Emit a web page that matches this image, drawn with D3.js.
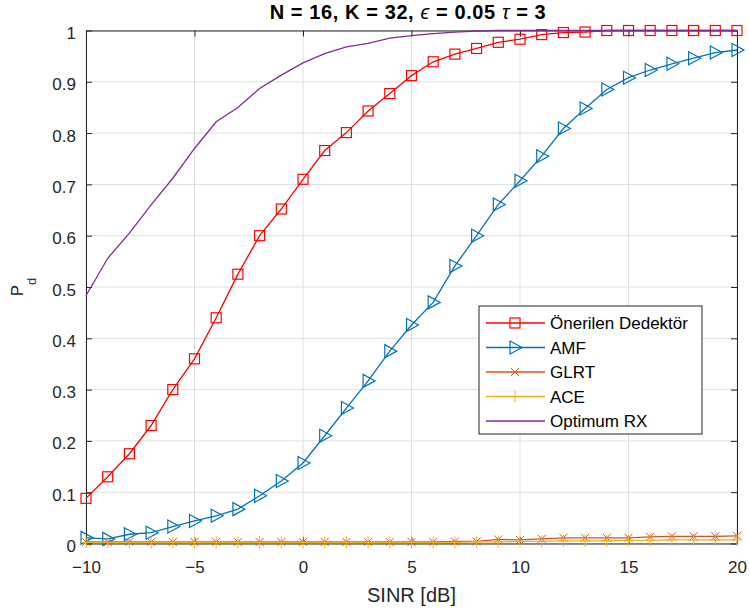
<!DOCTYPE html>
<html>
<head>
<meta charset="utf-8">
<script src="https://cdn.jsdelivr.net/npm/d3@7"></script>
<style>
  body { margin: 0; background: #fff; }
  svg text { font-family: "Liberation Sans", Arial, Helvetica, sans-serif; }
</style>
</head>
<body>
<div id="chart"></div>
<script>
(function() {
  'use strict';

  // SINR [dB] grid, one point per integer
  var sinr = d3.range(-10, 21);

  var onerilen = [0.088, 0.13, 0.175, 0.23, 0.30, 0.36, 0.44, 0.525, 0.60, 0.652,
    0.71, 0.766, 0.801, 0.843, 0.877, 0.912, 0.939, 0.954, 0.965, 0.977,
    0.983, 0.992, 0.996, 0.997, 1.0, 1.0, 1.0, 1.0, 1.0, 1.0, 1.0];

  var amf = [0.011, 0.009, 0.018, 0.021, 0.033, 0.044, 0.054, 0.067, 0.093, 0.122,
    0.157, 0.21, 0.264, 0.317, 0.375, 0.426, 0.47, 0.541, 0.60, 0.661,
    0.707, 0.755, 0.809, 0.848, 0.885, 0.908, 0.923, 0.935, 0.946, 0.957, 0.962];

  var glrt = [0.003, 0.003, 0.003, 0.003, 0.003, 0.003, 0.003, 0.003, 0.003, 0.003,
    0.003, 0.003, 0.003, 0.003, 0.003, 0.003, 0.003, 0.004, 0.004, 0.008,
    0.007, 0.009, 0.011, 0.011, 0.011, 0.011, 0.013, 0.014, 0.014, 0.014, 0.015];

  var ace = [0.002, 0.002, 0.002, 0.002, 0.002, 0.002, 0.002, 0.002, 0.002, 0.002,
    0.002, 0.002, 0.002, 0.002, 0.002, 0.002, 0.002, 0.002, 0.003, 0.003,
    0.004, 0.004, 0.005, 0.005, 0.005, 0.006, 0.006, 0.007, 0.007, 0.007, 0.007];

  var optimum = [0.483, 0.556, 0.605, 0.66, 0.712, 0.770, 0.822, 0.850, 0.887, 0.913,
    0.937, 0.955, 0.968, 0.975, 0.985, 0.990, 0.994, 0.997, 0.999, 1.0,
    1.0, 1.0, 1.0, 1.0, 1.0, 1.0, 1.0, 1.0, 1.0, 1.0, 1.0];

  var seriesNames = ['Önerilen Dedektör', 'AMF', 'GLRT', 'ACE', 'Optimum RX'];
  var seriesValues = [onerilen, amf, glrt, ace, optimum];
  var seriesColors = ['#ff0000', '#0072bd', '#d95319', '#edb120', '#7e2f8e'];
  var seriesMarkers = ['square', 'triangle', 'x', 'plus', 'none'];

  var xTicks = [-10, -5, 0, 5, 10, 15, 20];
  var yTicks = d3.range(0, 11).map(function (i) { return i / 10; });

  var width = 750;
  var height = 616;
  var margin = { top: 30.5, right: 13, bottom: 72.5, left: 86 };
  var iw = width - margin.left - margin.right;
  var ih = height - margin.top - margin.bottom;

  var svg = d3.select('#chart').append('svg')
    .attr('width', width)
    .attr('height', height);

  var g = svg.append('g')
    .attr('transform', 'translate(' + margin.left + ',' + margin.top + ')');

  var x = d3.scaleLinear().domain([-10, 20]).range([0, iw]);
  var y = d3.scaleLinear().domain([0, 1]).range([ih, 0]);

  // grid
  g.append('g').selectAll('line.gx').data(xTicks).enter().append('line')
    .attr('x1', function (d) { return x(d); })
    .attr('x2', function (d) { return x(d); })
    .attr('y1', 0).attr('y2', ih)
    .attr('stroke', '#dedede').attr('stroke-width', 1);
  g.append('g').selectAll('line.gy').data(yTicks).enter().append('line')
    .attr('y1', function (d) { return y(d); })
    .attr('y2', function (d) { return y(d); })
    .attr('x1', 0).attr('x2', iw)
    .attr('stroke', '#dedede').attr('stroke-width', 1);

  // axes (ticks inward, box on)
  var tickLen = 6;
  var xAxis = g.append('g').attr('transform', 'translate(0,' + ih + ')')
    .call(d3.axisBottom(x).tickValues(xTicks).tickSizeInner(-tickLen).tickSizeOuter(0).tickPadding(17));
  var xAxisTop = g.append('g')
    .call(d3.axisTop(x).tickValues(xTicks).tickSizeInner(-tickLen).tickSizeOuter(0).tickFormat(''));
  var yAxis = g.append('g')
    .call(d3.axisLeft(y).tickValues(yTicks).tickSizeInner(-tickLen).tickSizeOuter(0).tickPadding(10)
      .tickFormat(function (d) { return d3.format('')(+d.toFixed(1)); }));
  var yAxisRight = g.append('g').attr('transform', 'translate(' + iw + ',0)')
    .call(d3.axisRight(y).tickValues(yTicks).tickSizeInner(-tickLen).tickSizeOuter(0).tickFormat(''));

  [xAxis, xAxisTop, yAxis, yAxisRight].forEach(function (a) {
    a.select('.domain').attr('stroke', '#262626').attr('stroke-width', 1);
    a.selectAll('.tick line').attr('stroke', '#262626');
    a.selectAll('.tick text').attr('fill', '#262626')
      .style('font-size', '17px')
      .style('font-family', '"Liberation Sans", Arial, sans-serif');
  });
  yAxis.selectAll('.tick text').attr('dy', '0.47em');

  // series lines
  var line = d3.line()
    .x(function (d) { return x(d[0]); })
    .y(function (d) { return y(d[1]); });

  function drawMarker(sel, type, color) {
    if (type === 'square') {
      sel.append('rect').attr('x', -5).attr('y', -5).attr('width', 10).attr('height', 10)
        .attr('fill', 'none').attr('stroke', color).attr('stroke-width', 1.2);
    } else if (type === 'triangle') {
      sel.append('path').attr('d', 'M-5,-6.5L7,0L-5,6.5Z')
        .attr('fill', 'none').attr('stroke', color).attr('stroke-width', 1.2);
    } else if (type === 'x') {
      sel.append('path').attr('d', 'M-4,-4L4,4M-4,4L4,-4')
        .attr('fill', 'none').attr('stroke', color).attr('stroke-width', 1);
    } else if (type === 'plus') {
      sel.append('path').attr('d', 'M-5,0L5,0M0,-6L0,6')
        .attr('fill', 'none').attr('stroke', color).attr('stroke-width', 1);
    }
  }

  var plot = g.append('g');
  seriesValues.forEach(function (vals, i) {
    var pts = sinr.map(function (s, k) { return [s, vals[k]]; });
    plot.append('path')
      .datum(pts)
      .attr('d', line)
      .attr('fill', 'none')
      .attr('stroke', seriesColors[i])
      .attr('stroke-width', 1.3);
    if (seriesMarkers[i] !== 'none') {
      plot.append('g').selectAll('g').data(pts).enter().append('g')
        .attr('transform', function (d) { return 'translate(' + x(d[0]) + ',' + y(d[1]) + ')'; })
        .each(function () { drawMarker(d3.select(this), seriesMarkers[i], seriesColors[i]); });
    }
  });

  // title
  var title = svg.append('text')
    .attr('x', 408).attr('y', 19)
    .attr('text-anchor', 'middle')
    .style('font-size', '20px').style('font-weight', 'bold')
    .style('letter-spacing', '0.6px')
    .attr('fill', '#000');
  title.append('tspan').text('N = 16, K = 32, ');
  title.append('tspan').style('font-style', 'italic').style('font-weight', 'normal').text('ϵ');
  title.append('tspan').text(' = 0.05 ');
  title.append('tspan').style('font-style', 'italic').style('font-weight', 'normal').text('τ');
  title.append('tspan').text(' = 3');

  // axis labels
  svg.append('text')
    .attr('x', margin.left + iw / 2).attr('y', 602)
    .attr('text-anchor', 'middle')
    .style('font-size', '20px').attr('fill', '#262626')
    .text('SINR [dB]');

  var yl = svg.append('text')
    .attr('transform', 'translate(22.5,' + (margin.top + ih / 2) + ') rotate(-90)')
    .attr('text-anchor', 'middle')
    .style('font-size', '17px').attr('fill', '#262626');
  yl.append('tspan').text('P');
  yl.append('tspan').attr('dy', 13).style('font-size', '13px').text('d');

  // legend
  var lg = svg.append('g').attr('transform', 'translate(479,306)');
  lg.append('rect').attr('width', 223).attr('height', 128)
    .attr('fill', '#fff').attr('stroke', '#262626').attr('stroke-width', 1);
  seriesNames.forEach(function (name, i) {
    var row = lg.append('g').attr('transform', 'translate(0,' + (17 + i * 24.5) + ')');
    row.append('line').attr('x1', 7).attr('x2', 66).attr('y1', 0).attr('y2', 0)
      .attr('stroke', seriesColors[i]).attr('stroke-width', 1.3);
    var m = row.append('g').attr('transform', 'translate(36,0)');
    drawMarker(m, seriesMarkers[i], seriesColors[i]);
    row.append('text').attr('x', 71).attr('y', 6)
      .style('font-size', '17px').attr('fill', '#000')
      .text(name);
  });
})();
</script>
</body>
</html>
